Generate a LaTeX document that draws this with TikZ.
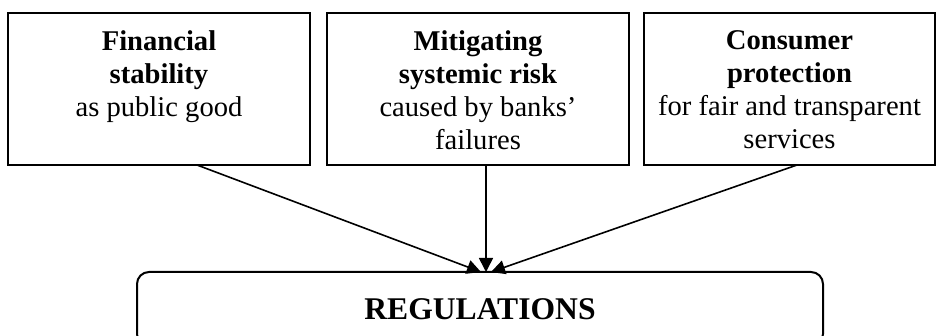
\documentclass[tikz,border=0pt]{standalone}
\usepackage{fontspec}
\setmainfont{Liberation Serif}
\usetikzlibrary{arrows.meta}
\begin{document}
\begin{tikzpicture}[x=0.5pt,y=-0.5pt,
  box/.style={draw,line width=1pt,minimum width=#1,minimum height=76pt,inner sep=0pt},
  txt/.style={anchor=north,align=center,inner sep=0pt,font=\fontsize{14.3}{16.5}\selectfont},
  regbox/.style={draw,line width=1pt,rounded corners=6pt,minimum width=343pt,minimum height=37pt,inner sep=0pt,font=\fontsize{15.8}{18}\selectfont\bfseries},
  arr/.style={line width=0.8pt,-{Triangle[length=7pt,width=7pt]}}]
\useasboundingbox (0,0) rectangle (938,336);
\node[box=151pt] (lbox) at (159,89) {};
\node[box=151pt] (mbox) at (478,89) {};
\node[box=145.5pt] (rbox) at (789.5,89) {};
\node[txt] (ltxt) at ([yshift=-9pt]lbox.north) {\textbf{Financial}\\\textbf{stability}\\as public good};
\node[txt] (mtxt) at ([yshift=-9pt]mbox.north) {\textbf{Mitigating}\\\textbf{systemic risk}\\caused by banks’\\failures};
\node[txt] (rtxt) at ([yshift=-9pt]rbox.north) {\textbf{Consumer}\\\textbf{protection}\\for fair and transparent\\services};
\node[regbox] (reg) at (480,309) {REGULATIONS};
\coordinate (ls) at (197,165);
\coordinate (ms) at (486,165);
\coordinate (rs) at (797,165);
\coordinate (le) at (481,272);
\coordinate (me) at (486,272);
\coordinate (re) at (491,272);
\draw[arr] (ls) -- (le);
\draw[arr] (ms) -- (me);
\draw[arr] (rs) -- (re);
\end{tikzpicture}
\end{document}
